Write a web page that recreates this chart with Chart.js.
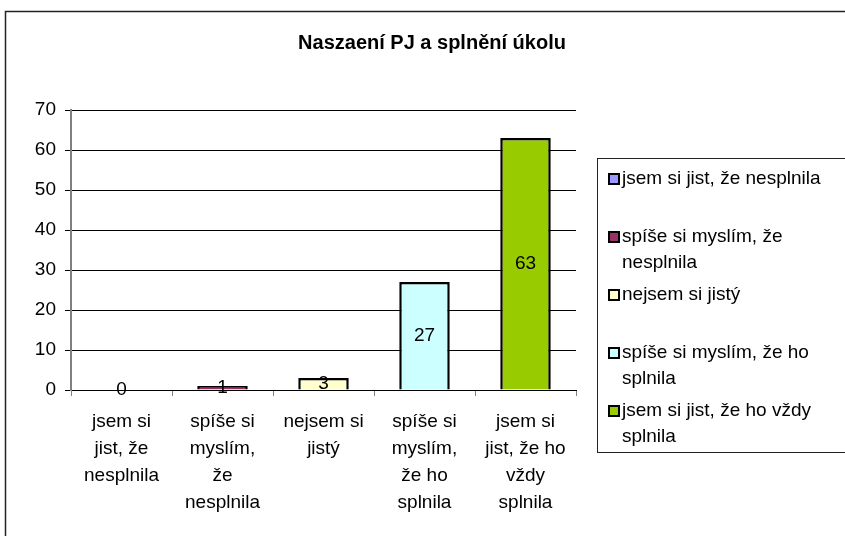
<!DOCTYPE html>
<html>
<head>
<meta charset="utf-8">
<script src="https://cdn.jsdelivr.net/npm/chart.js@4"></script>
<style>
    body { margin: 0; background: #fff; }
    #chart { display: block; }
</style>
</head>
<body>
<canvas id="chart" width="845" height="536"></canvas>
<script>
var chartTitle = 'Naszaení PJ a splnění úkolu';

// category labels under the x axis (already broken into lines like the original)
var axisLabels = [
    ['jsem si', 'jist, že', 'nesplnila'],
    ['spíše si', 'myslím,', 'že', 'nesplnila'],
    ['nejsem si', 'jistý'],
    ['spíše si', 'myslím,', 'že ho', 'splnila'],
    ['jsem si', 'jist, že ho', 'vždy', 'splnila']
];

var legendLabels = [
    ['jsem si jist, že nesplnila'],
    ['spíše si myslím, že', 'nesplnila'],
    ['nejsem si jistý'],
    ['spíše si myslím, že ho', 'splnila'],
    ['jsem si jist, že ho vždy', 'splnila']
];

var values = [0, 1, 3, 27, 63];
var barColors = ['#9999FF', '#993366', '#FFFFCC', '#CCFFFF', '#99CC00'];
var yTicks = [0, 10, 20, 30, 40, 50, 60, 70];

var fontFamily = '"Liberation Sans", Arial, sans-serif';
var textSize = 19;

// frame, title, value labels and the boxed legend
var decorPlugin = {
    id: 'decor',
    beforeDraw: function(chart) {
        var ctx = chart.ctx;
        ctx.save();
        ctx.fillStyle = '#fff';
        ctx.fillRect(0, 0, chart.width, chart.height);
        ctx.strokeStyle = '#222';
        ctx.lineWidth = 1.5;
        ctx.strokeRect(5.5, 11.5, 900, 600);
        ctx.restore();
    },
    afterDatasetsDraw: function(chart) {
        var ctx = chart.ctx;
        var meta = chart.getDatasetMeta(0);
        ctx.save();
        ctx.fillStyle = '#000';
        ctx.font = textSize + 'px ' + fontFamily;
        ctx.textAlign = 'center';
        ctx.textBaseline = 'middle';
        meta.data.forEach(function(bar, i) {
            var p = bar.getCenterPoint();
            ctx.fillText(String(values[i]), p.x, p.y);
        });
        ctx.restore();
    },
    afterDraw: function(chart) {
        var ctx = chart.ctx;
        ctx.save();

        // title
        ctx.fillStyle = '#000';
        ctx.font = 'bold 20px ' + fontFamily;
        ctx.textAlign = 'center';
        ctx.textBaseline = 'middle';
        ctx.fillText(chartTitle, 432, 43);

        // legend box
        ctx.strokeStyle = '#222';
        ctx.lineWidth = 1;
        ctx.strokeRect(597.5, 158.5, 300, 294);

        ctx.font = textSize + 'px ' + fontFamily;
        ctx.textAlign = 'left';
        var y0 = 179;
        var step = 58;
        legendLabels.forEach(function(lines, i) {
            var y = y0 + step * i;
            ctx.fillStyle = barColors[i];
            ctx.fillRect(609, y - 5, 10, 10);
            ctx.strokeStyle = '#000';
            ctx.lineWidth = 2;
            ctx.strokeRect(609, y - 5, 10, 10);
            ctx.fillStyle = '#000';
            lines.forEach(function(line, j) {
                ctx.fillText(line, 622, y + j * 26);
            });
        });
        ctx.restore();
    }
};

new Chart(document.getElementById('chart'), {
    type: 'bar',
    data: {
        labels: axisLabels,
        datasets: [{
            data: values,
            backgroundColor: barColors,
            borderColor: '#000',
            borderWidth: 2.5,
            barPercentage: 0.5,
            categoryPercentage: 1
        }]
    },
    options: {
        responsive: false,
        animation: false,
        layout: {
            padding: { left: 5, right: 269, top: 110, bottom: 0 }
        },
        plugins: {
            legend: { display: false },
            title: { display: false },
            tooltip: { enabled: false }
        },
        scales: {
            x: {
                grid: {
                    drawOnChartArea: false,
                    tickLength: 6,
                    color: '#808080'
                },
                border: { color: '#000', width: 1 },
                ticks: {
                    color: '#000',
                    autoSkip: false,
                    maxRotation: 0,
                    padding: 12,
                    font: { family: fontFamily, size: textSize, lineHeight: 1.42 }
                },
                afterFit: function(axis) { axis.height = 146; }
            },
            y: {
                min: 0,
                max: 70,
                afterBuildTicks: function(axis) {
                    axis.ticks = yTicks.map(function(v) { return { value: v }; });
                },
                grid: {
                    color: '#000',
                    lineWidth: 1,
                    tickLength: 6
                },
                border: { color: '#808080', width: 2 },
                ticks: {
                    color: '#000',
                    padding: 9,
                    font: { family: fontFamily, size: textSize }
                },
                afterFit: function(axis) { axis.width = 66; }
            }
        }
    },
    plugins: [decorPlugin]
});
</script>
</body>
</html>
